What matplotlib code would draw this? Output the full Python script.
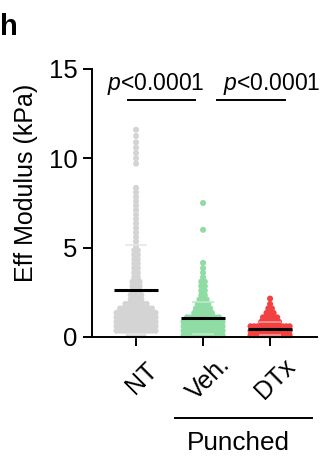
import numpy as np
import matplotlib
matplotlib.use("Agg")
from matplotlib import pyplot as plt

plt.rcParams['font.family'] = ['Liberation Sans', 'DejaVu Sans']
plt.rcParams['mathtext.fontset'] = 'custom'
plt.rcParams['mathtext.it'] = 'Liberation Sans:italic'
plt.rcParams['mathtext.rm'] = 'Liberation Sans'

groups = ["NT", "Veh.", "DTx"]
colors = ["#d4d4d4", "#8fdca4", "#f24141"]
sd_colors = ["#e6e6e6", "#bdebc9", "#f79a9a"]

# rows of the dot plot: value level (kPa) and number of dots in that row
nt_levels = [0.1, 0.35, 0.6, 0.85, 1.1, 1.35, 1.6, 1.85, 2.1, 2.35, 2.6, 2.85,
             3.1, 3.35, 3.6, 3.85, 4.1, 4.35, 4.6, 4.85, 5.1, 5.35, 5.6, 5.85,
             6.1, 6.35, 6.6, 6.85, 7.1, 7.35, 7.6, 7.85, 8.1, 8.35,
             9.7, 10.0, 10.3, 10.6, 10.9, 11.25, 11.6]
nt_counts = [5, 12, 12, 12, 12, 12, 10, 7, 4, 4, 3, 3,
             3, 2, 2, 2, 2, 2, 2, 2, 1, 1, 1, 1,
             1, 1, 1, 1, 1, 1, 1, 1, 1, 1,
             1, 1, 1, 1, 1, 1, 1]

veh_levels = [0.1, 0.35, 0.6, 0.85, 1.1, 1.35, 1.6, 1.85, 2.1, 2.35, 2.6,
              2.85, 3.1, 3.35, 3.6, 3.85, 4.15, 6.0, 7.5]
veh_counts = [12, 12, 12, 12, 10, 6, 5, 4, 3, 2, 2,
              2, 2, 1, 1, 1, 1, 1, 1]

dtx_levels = [0.1, 0.35, 0.6, 0.85, 1.1, 1.35, 1.6, 1.85, 2.15]
dtx_counts = [12, 12, 12, 6, 5, 3, 2, 1, 1]

means = [2.65, 1.08, 0.47]
sds = [2.5, 0.9, 0.35]

levels = [nt_levels, veh_levels, dtx_levels]
counts = [nt_counts, veh_counts, dtx_counts]

fig = plt.figure(figsize=(3.31, 4.66), dpi=100)
W, H = 331.0, 466.0
ax = fig.add_axes([92 / W, 1 - 337 / H, (317 - 92) / W, (337 - 69) / H])

dx = 0.053
for i in range(3):
    xs, ys = [], []
    for lv, n in zip(levels[i], counts[i]):
        off = (np.arange(n) - (n - 1) / 2.0) * dx
        xs.extend(i + off)
        ys.extend([lv] * n)
    ax.scatter(xs, ys, s=19, color=colors[i], edgecolors='none', zorder=2, clip_on=False)
    ax.plot([i - 0.33, i + 0.33], [means[i], means[i]], color='black', lw=2.2,
            solid_capstyle='butt', zorder=4)
    for yv in [means[i] + sds[i], means[i] - sds[i]]:
        ax.plot([i - 0.165, i + 0.165], [yv, yv], color=sd_colors[i], lw=1.2,
                solid_capstyle='butt', zorder=3)

ax.set_xlim(-0.657, 2.70)
ax.set_ylim(0, 15)
ax.set_yticks([0, 5, 10, 15])
ax.set_xticks([0, 1, 2])
ax.set_xticklabels([])
ax.spines['top'].set_visible(False)
ax.spines['right'].set_visible(False)
for s in ['left', 'bottom']:
    ax.spines[s].set_linewidth(1.4)
ax.tick_params(axis='both', width=1.4, length=6.5, labelsize=18.5, pad=4)

for i, g in enumerate(groups):
    ax.annotate(g, xy=(i, 0), xycoords=('data', 'axes fraction'),
                xytext=(4, -30), textcoords='offset points', rotation=45,
                rotation_mode='anchor', ha='center', va='center', fontsize=18)

# significance bars
ax.plot([-0.12, 0.88], [13.26, 13.26], color='black', lw=1.4, clip_on=False)
ax.plot([1.21, 2.22], [13.26, 13.26], color='black', lw=1.4, clip_on=False)
ax.text(0.29, 13.82, r'$\it{p}$<0.0001', ha='center', va='baseline', fontsize=16.5)
ax.text(2.02, 13.82, r'$\it{p}$<0.0001', ha='center', va='baseline', fontsize=16.5)

# Punched grouping
ax.plot([0.58, 2.63], [-4.53, -4.53], color='black', lw=1.4, clip_on=False)
ax.text(1.52, -5.93, 'Punched', ha='center', va='center', fontsize=18.8)

fig.text(26 / W, 1 - 183 / H, 'Eff Modulus (kPa)', rotation=90, ha='center',
         va='center', fontsize=18)
fig.text(0.0, 1 - 35 / H, 'h', fontweight='bold', fontsize=21, va='baseline')

fig.savefig('out.png', dpi=100)
